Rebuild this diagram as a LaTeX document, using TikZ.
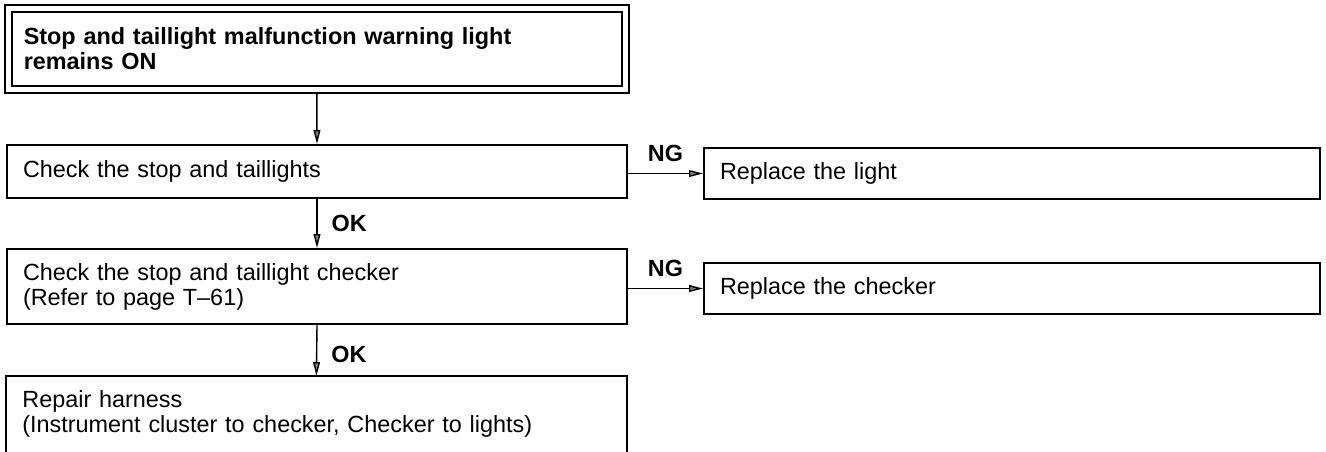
\documentclass[tikz,border=0pt]{standalone}
\usepackage{fontspec}
\setmainfont{Liberation Sans}
\usetikzlibrary{arrows.meta,fit}
\begin{document}
\begin{tikzpicture}[x=0.5pt,y=-0.5pt,
  txt/.style={font=\fontsize{11.7}{12.5}\selectfont},
  lbox/.style={txt, draw, line width=1pt, anchor=north west, align=left,
    text width=294pt, inner xsep=8pt, inner ysep=0pt},
  rbox/.style={txt, draw, line width=1pt, anchor=north west, align=left,
    text width=292pt, inner xsep=8pt, inner ysep=0pt, minimum height=25.5pt},
  lbl/.style={font=\fontsize{11.7}{12.5}\selectfont\bfseries, inner sep=0pt},
  arr/.style={line width=0.7pt, -{Triangle[length=7pt,width=3.4pt,fill=gray]}}
]
\useasboundingbox (0,0) rectangle (1326,451);

% top double-bordered box
\node[txt, font=\fontsize{11.7}{12.5}\selectfont\bfseries, draw, line width=0.8pt,
  anchor=north west, align=left, text width=293pt, inner xsep=6pt, inner ysep=0pt,
  minimum height=37pt] (top) at (11,11)
  {Stop and taillight malfunction warning light\\remains ON};
\node[draw, line width=1.1pt, fit=(top), inner sep=3pt] (topo) {};

% left column
\node[lbox, minimum height=26.5pt] (c1) at (6,144) {Check the stop and taillights};
\node[lbox, minimum height=37.5pt] (c2) at (6,248)
  {Check the stop and taillight checker\\(Refer to page T--61)};
\node[txt, anchor=north west, align=left, text width=294pt, inner xsep=8pt,
  inner ysep=0pt, minimum height=37.5pt] (rep) at (6,376)
  {Repair harness\\(Instrument cluster to checker, Checker to lights)};
\draw[line width=1pt] (rep.south west) -- (rep.north west) -- (rep.north east) -- (rep.south east);

% right column
\node[rbox] (r1) at (703,147) {Replace the light};
\node[rbox] (r2) at (703,262) {Replace the checker};

% connectors
\draw[arr] (topo.south) -- (c1.north);
\draw[arr] (c1.south) -- node[lbl, right=7pt] {OK} (c2.north);
\draw[arr] (c2.south) -- node[lbl, right=7pt, yshift=-2pt] {OK} (rep.north);
\draw[arr] (r1.west -| c1.east) -- node[lbl, above=5.5pt] {NG} (r1.west);
\draw[arr] (r2.west -| c2.east) -- node[lbl, above=5.5pt] {NG} (r2.west);
\end{tikzpicture}
\end{document}
